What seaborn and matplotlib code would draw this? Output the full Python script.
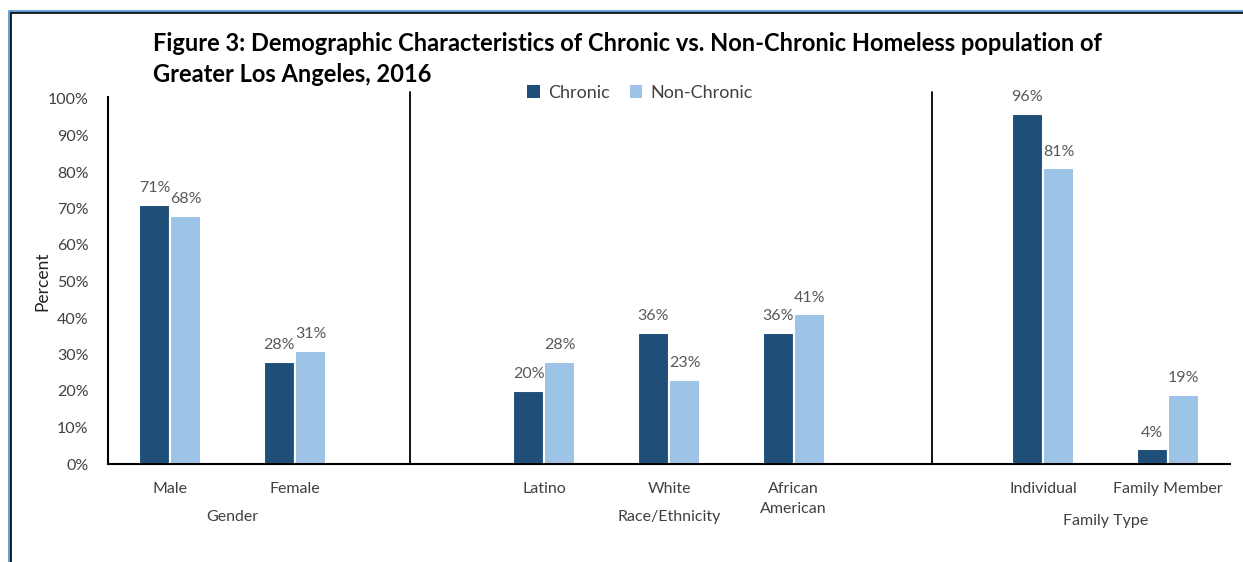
import matplotlib
matplotlib.use("Agg")
import matplotlib.pyplot as plt
import matplotlib.transforms as mtransforms
from matplotlib.lines import Line2D
from matplotlib.patches import Patch
import seaborn as sns
import pandas as pd

categories = ["Male", "Female", "", "Latino", "White", "African\nAmerican", " ", "Individual", "Family Member"]
data_categories = ["Male", "Female", "Latino", "White", "African\nAmerican", "Individual", "Family Member"]
chronic = [71, 28, 20, 36, 36, 96, 4]
non_chronic = [68, 31, 28, 23, 41, 81, 19]
series = ["Chronic", "Non-Chronic"]
groups = ["Gender", "Race/Ethnicity", "Family Type"]
group_centers = [0.5, 4.0, 7.5]
group_y = [517, 517, 521]
dividers = [1.92, 6.11]
yticks = list(range(0, 101, 10))
title = ("Figure 3: Demographic Characteristics of Chronic vs. Non-Chronic Homeless population of\n"
         "Greater Los Angeles, 2016")

colors = {"Chronic": "#1F4E79", "Non-Chronic": "#9DC3E6"}

df = pd.DataFrame({
    "Category": data_categories * 2,
    "Series": ["Chronic"] * len(chronic) + ["Non-Chronic"] * len(non_chronic),
    "Value": chronic + non_chronic,
})

sns.set_theme(style="white")
plt.rcParams["font.family"] = ["Lato", "DejaVu Sans"]

W, H = 1243, 562
fig = plt.figure(figsize=(W / 100, H / 100), dpi=100)
ax = fig.add_axes([108 / W, (H - 464) / H, 1122 / W, 365 / H])

sns.barplot(data=df, x="Category", y="Value", hue="Series", order=categories,
            hue_order=series, palette=colors, width=0.5, edgecolor="white",
            linewidth=1.5, saturation=1, ax=ax, legend=False)

ax.set_xlim(-0.5, 8.5)
ax.set_ylim(0, 100)
ax.set_yticks(yticks)
ax.set_yticklabels([f"{t}%" for t in yticks], fontsize=11.5, color="#404040")
ax.tick_params(axis="both", length=0)
ax.tick_params(axis="y", pad=14)
ax.tick_params(axis="x", pad=13)
for lbl in ax.get_xticklabels():
    lbl.set_fontsize(11.5)
    lbl.set_color("#404040")
    lbl.set_verticalalignment("top")
    lbl.set_linespacing(1.5)
ax.set_xlabel("")
ax.set_ylabel("Percent", fontsize=12.5, color="#222222", labelpad=-2)
for s in ["top", "right"]:
    ax.spines[s].set_visible(False)
for s in ["left", "bottom"]:
    ax.spines[s].set_color("black")
    ax.spines[s].set_linewidth(1.5)
ax.spines["left"].set_bounds(0, 100.5)

for c in ax.containers:
    ax.bar_label(c, labels=[f"{v:.0f}%" for v in c.datavalues], padding=7,
                 fontsize=11.5, color="#595959")

for d in dividers:
    ax.plot([d, d], [0, 101.8], color="black", lw=1.3, clip_on=False)

trans = mtransforms.blended_transform_factory(ax.transData, fig.transFigure)
for g, xc, gy in zip(groups, group_centers, group_y):
    ax.text(xc, 1 - gy / H, g, transform=trans, ha="center", va="center",
            fontsize=11.5, color="#404040")

fig.text(153 / W, 1 - 32 / H, title, ha="left", va="top", fontsize=17,
         fontweight="bold", color="black", linespacing=1.4)

handles = [Patch(facecolor=colors[s], edgecolor="none") for s in series]
fig.legend(handles, series, loc="center", bbox_to_anchor=(640 / W, 1 - 93 / H),
           ncol=2, frameon=False, fontsize=13, handlelength=0.7, handleheight=0.7,
           handletextpad=0.45, columnspacing=1.1, labelcolor="#404040")

# outer frame lines (blue + black) at top and left
fig.add_artist(Line2D([9 / W, 1], [1 - 11 / H, 1 - 11 / H], transform=fig.transFigure,
                      color="#5B9BD5", lw=2))
fig.add_artist(Line2D([11 / W, 1], [1 - 12.5 / H, 1 - 12.5 / H], transform=fig.transFigure,
                      color="black", lw=1.2))
fig.add_artist(Line2D([9 / W, 9 / W], [0, 1 - 11 / H], transform=fig.transFigure,
                      color="#5B9BD5", lw=2))
fig.add_artist(Line2D([11 / W, 11 / W], [0, 1 - 12.5 / H], transform=fig.transFigure,
                      color="black", lw=1.2))

fig.savefig("out.png", dpi=100)
